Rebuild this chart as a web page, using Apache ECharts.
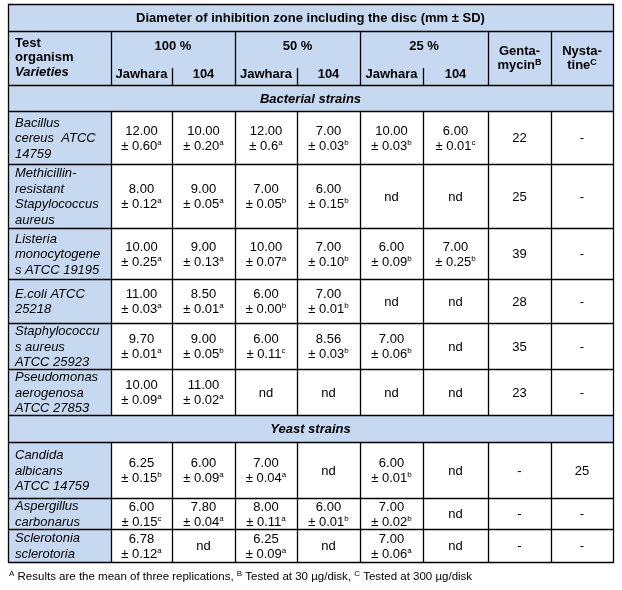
<!DOCTYPE html>
<html><head><meta charset="utf-8">
<script src="https://cdn.jsdelivr.net/npm/echarts@6/dist/echarts.min.js"></script>
<style>html,body{margin:0;padding:0;background:#fff}#c{width:622px;height:590px}</style>
</head><body><div id="c"></div>
<script>
// ---- DATA ----
const title = 'Diameter of inhibition zone including the disc (mm ± SD)';
const concentrations = ['100 %', '50 %', '25 %'];
const varieties = ['Jawhara', '104', 'Jawhara', '104', 'Jawhara', '104'];
const groupLabels = ['Bacterial strains', 'Yeast strains'];
const footnote = ['A', ' Results are the mean of three replications, ', 'B', ' Tested at 30 µg/disk, ', 'C', ' Tested at 300 µg/disk'];

const bacteria = ['Bacillus\ncereus  ATCC\n14759', 'Methicillin-\nresistant\nStapylococcus\naureus', 'Listeria\nmonocytogene\ns ATCC 19195', 'E.coli ATCC\n25218', 'Staphylococcu\ns aureus\nATCC 25923', 'Pseudomonas\naerogenosa\nATCC 27853'];
const bacteriaMean = [
  ['12.00', '10.00', '12.00', '7.00', '10.00', '6.00'],
  ['8.00', '9.00', '7.00', '6.00', 'nd', 'nd'],
  ['10.00', '9.00', '10.00', '7.00', '6.00', '7.00'],
  ['11.00', '8.50', '6.00', '7.00', 'nd', 'nd'],
  ['9.70', '9.00', '6.00', '8.56', '7.00', 'nd'],
  ['10.00', '11.00', 'nd', 'nd', 'nd', 'nd']
];
const bacteriaSD = [
  ['0.60', '0.20', '0.6', '0.03', '0.03', '0.01'],
  ['0.12', '0.05', '0.05', '0.15', '', ''],
  ['0.25', '0.13', '0.07', '0.10', '0.09', '0.25'],
  ['0.03', '0.01', '0.00', '0.01', '', ''],
  ['0.01', '0.05', '0.11', '0.03', '0.06', ''],
  ['0.09', '0.02', '', '', '', '']
];
const bacteriaLetter = [
  ['a', 'a', 'a', 'b', 'b', 'c'],
  ['a', 'a', 'b', 'b', '', ''],
  ['a', 'a', 'a', 'b', 'b', 'b'],
  ['a', 'a', 'b', 'b', '', ''],
  ['a', 'b', 'c', 'b', 'b', ''],
  ['a', 'a', '', '', '', '']
];
const bacteriaGentamycin = ['22', '25', '39', '28', '35', '23'];
const bacteriaNystatine = ['-', '-', '-', '-', '-', '-'];

const yeasts = ['Candida\nalbicans\nATCC 14759', 'Aspergillus\ncarbonarus', 'Sclerotonia\nsclerotoria'];
const yeastMean = [
  ['6.25', '6.00', '7.00', 'nd', '6.00', 'nd'],
  ['6.00', '7.80', '8.00', '6.00', '7.00', 'nd'],
  ['6.78', 'nd', '6.25', 'nd', '7.00', 'nd']
];
const yeastSD = [
  ['0.15', '0.09', '0.04', '', '0.01', ''],
  ['0.15', '0.04', '0.11', '0.01', '0.02', ''],
  ['0.12', '', '0.09', '', '0.06', '']
];
const yeastLetter = [
  ['b', 'a', 'a', '', 'b', ''],
  ['c', 'a', 'a', 'b', 'b', ''],
  ['a', '', 'a', '', 'a', '']
];
const yeastGentamycin = ['-', '-', '-'];
const yeastNystatine = ['25', '-', '-'];

// ---- LAYOUT ----
const colX = [8, 111, 172, 235, 297, 360, 423, 488, 551, 613];
const rowY = [4, 31, 85, 111, 164, 228, 279, 323, 369, 415, 442, 498, 529, 562];
const subTop = 68;
const BLUE = '#c6d9f1';
const FONT = 'Liberation Sans, Arial, sans-serif';
const FS = 13;

const g = [];
function rect(x0, y0, x1, y1, fill) {
  g.push({type: 'rect', silent: true, shape: {x: x0, y: y0, width: x1 - x0, height: y1 - y0}, style: {fill: fill}});
}
function line(x1, y1, x2, y2) {
  g.push({type: 'line', silent: true, shape: {x1: x1, y1: y1, x2: x2, y2: y2}, style: {stroke: '#000', lineWidth: 1.3}});
}
const rich = {
  v: {fontSize: FS, fontFamily: FONT, lineHeight: 15, fill: '#000'},
  b: {fontSize: FS, fontFamily: FONT, fontWeight: 'bold', lineHeight: 14, fill: '#000'},
  bs: {fontSize: 9, fontFamily: FONT, fontWeight: 'bold', lineHeight: 14, verticalAlign: 'top', fill: '#000'},
  s: {fontSize: 8, fontFamily: FONT, lineHeight: 15, verticalAlign: 'top', fill: '#000'},
  i: {fontSize: FS, fontFamily: FONT, fontStyle: 'italic', lineHeight: 15.5, fill: '#000'},
  bi: {fontSize: FS, fontFamily: FONT, fontStyle: 'italic', fontWeight: 'bold', lineHeight: 15, fill: '#000'},
  f: {fontSize: 11.5, fontFamily: FONT, lineHeight: 14, fill: '#000'},
  fs: {fontSize: 8, fontFamily: FONT, lineHeight: 14, verticalAlign: 'top', fill: '#000'}
};
function text(x, y, str, align) {
  g.push({type: 'text', silent: true, x: x, y: y,
    style: {text: str, rich: rich, align: align || 'center', verticalAlign: 'middle', fill: '#000', font: FS + 'px ' + FONT}});
}
function cellText(m, sd, l) {
  if (!sd) return '{v|' + m + '}';
  return '{v|' + m + '}\n{v|± ' + sd + '}{s|' + l + '}';
}

// backgrounds
rect(colX[0], rowY[0], colX[9], rowY[3], BLUE);
rect(colX[0], rowY[3], colX[9], rowY[13], '#fff');
rect(colX[0], rowY[3], colX[1], rowY[9], BLUE);
rect(colX[0], rowY[9], colX[9], rowY[10], BLUE);
rect(colX[0], rowY[10], colX[1], rowY[13], BLUE);

// horizontal lines
rowY.forEach(function (y) {
  line(colX[0], y + 0.5, colX[9] + 1, y + 0.5);
});
// vertical lines
line(colX[0] + 0.5, rowY[0], colX[0] + 0.5, rowY[13] + 1);
line(colX[9] + 0.5, rowY[0], colX[9] + 0.5, rowY[13] + 1);
for (let i = 1; i < 9; i++) {
  const x = colX[i] + 0.5;
  const isSub = (i === 2 || i === 4 || i === 6);
  line(x, isSub ? subTop : rowY[1], x, rowY[2]);
  line(x, rowY[3], x, rowY[9]);
  line(x, rowY[10], x, rowY[13]);
}

// title & headers
text((colX[0] + colX[9]) / 2, (rowY[0] + rowY[1]) / 2 + 1, '{b|' + title + '}');
text(colX[0] + 7, 58, '{b|Test}\n{b|organism}\n{bi|Varieties}', 'left');
concentrations.forEach(function (c, k) {
  text((colX[1 + 2 * k] + colX[3 + 2 * k]) / 2, 46, '{b|' + c + '}');
});
varieties.forEach(function (v, k) {
  text((colX[1 + k] + colX[2 + k]) / 2, 74, '{b|' + v + '}');
});
text((colX[7] + colX[8]) / 2, 58, '{b|Genta-}\n{b|mycin}{bs|B}');
text((colX[8] + colX[9]) / 2, 58, '{b|Nysta-}\n{b|tine}{bs|C}');
text((colX[0] + colX[9]) / 2, (rowY[2] + rowY[3]) / 2 + 1, '{bi|' + groupLabels[0] + '}');
text((colX[0] + colX[9]) / 2, (rowY[9] + rowY[10]) / 2 + 1, '{bi|' + groupLabels[1] + '}');

function drawRows(names, means, sds, letters, genta, nysta, startRow) {
  names.forEach(function (n, r) {
    const y0 = rowY[startRow + r], y1 = rowY[startRow + r + 1];
    const yc = (y0 + y1) / 2 + 1;
    text(colX[0] + 7, yc, n.split('\n').map(function (s) { return '{i|' + s + '}'; }).join('\n'), 'left');
    means[r].forEach(function (m, c) {
      text((colX[1 + c] + colX[2 + c]) / 2, yc, cellText(m, sds[r][c], letters[r][c]));
    });
    text((colX[7] + colX[8]) / 2, yc, '{v|' + genta[r] + '}');
    text((colX[8] + colX[9]) / 2, yc, '{v|' + nysta[r] + '}');
  });
}
drawRows(bacteria, bacteriaMean, bacteriaSD, bacteriaLetter, bacteriaGentamycin, bacteriaNystatine, 3);
drawRows(yeasts, yeastMean, yeastSD, yeastLetter, yeastGentamycin, yeastNystatine, 10);

// footnote
text(9, 577, footnote.map(function (s, k) { return (k % 2 === 0 ? '{fs|' : '{f|') + s + '}'; }).join(''), 'left');

const chart = echarts.init(document.getElementById('c'), null, {renderer: 'canvas'});
chart.setOption({backgroundColor: '#fff', animation: false, graphic: {elements: g}});
</script></body></html>
